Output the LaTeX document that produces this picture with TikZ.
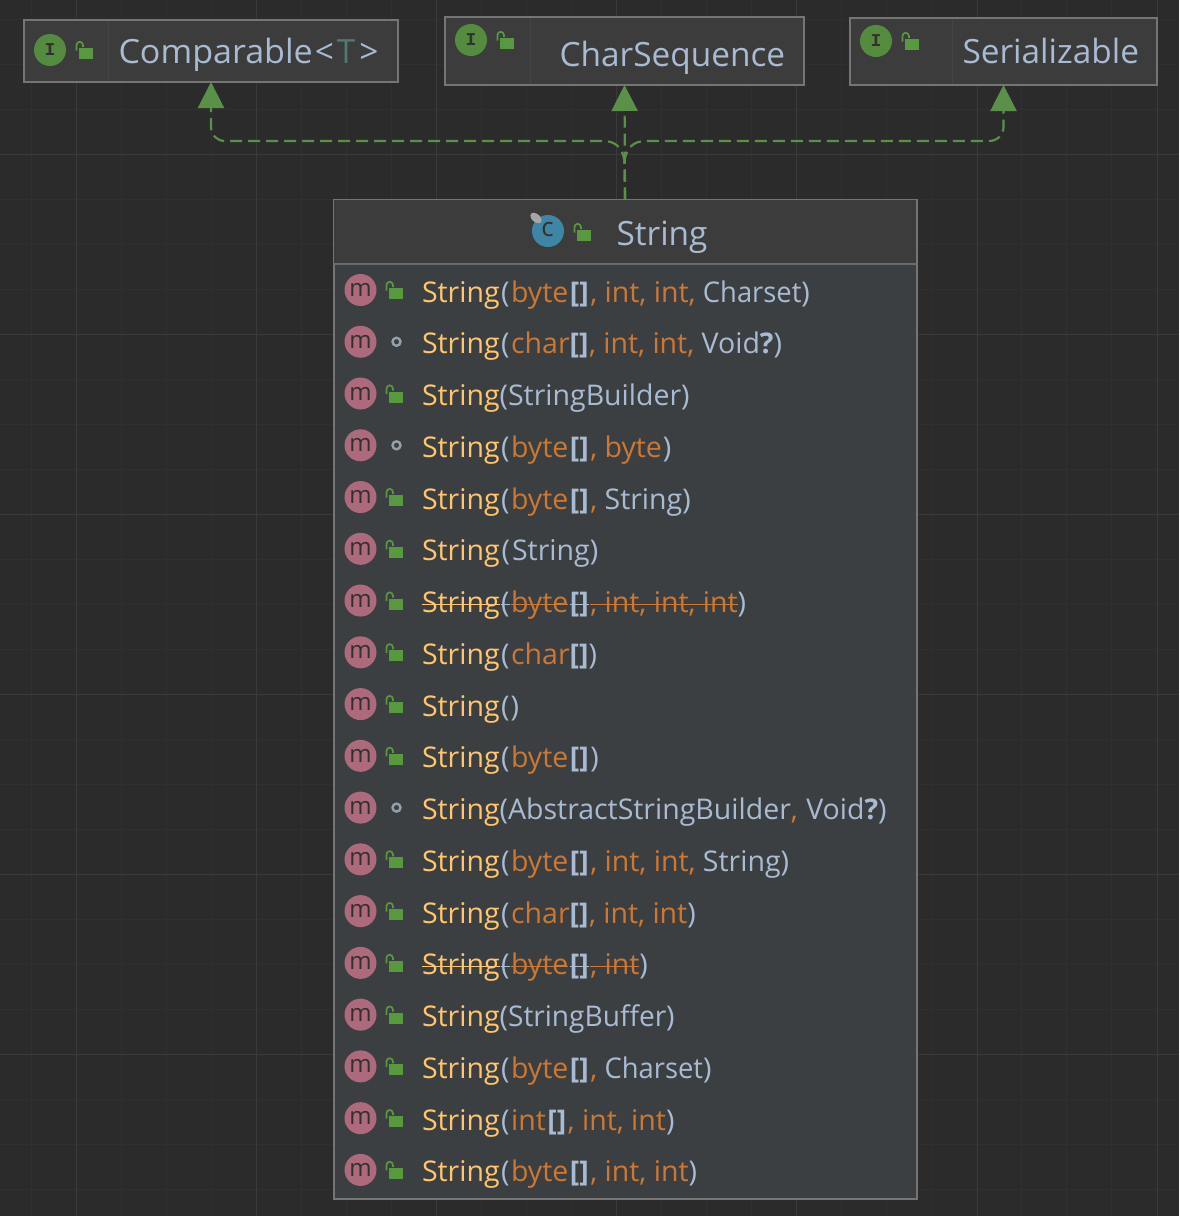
\documentclass[tikz,border=0pt]{standalone}
\usepackage{fontspec}
\setmainfont{Open Sans}
\newfontfamily\monoI{Liberation Mono}
\usetikzlibrary{arrows.meta}
\definecolor{bgc}{HTML}{2B2B2B}
\definecolor{gridmin}{HTML}{303030}
\definecolor{gridmaj}{HTML}{3A3A3A}
\definecolor{headc}{HTML}{3C3C3C}
\definecolor{bodyc}{HTML}{3C3F41}
\definecolor{edgec}{HTML}{757575}
\definecolor{sepc}{HTML}{6A6A6A}
\definecolor{divc}{HTML}{454545}
\definecolor{greenc}{HTML}{5B9049}
\definecolor{lockc}{HTML}{58983F}
\definecolor{ibadge}{HTML}{558B3F}
\definecolor{mbadge}{HTML}{AD6A7C}
\definecolor{cbadge}{HTML}{3E86A5}
\definecolor{yel}{HTML}{FFC66D}
\definecolor{blu}{HTML}{A9BBD3}
\definecolor{org}{HTML}{CC7832}
\definecolor{teal}{HTML}{507874}
\definecolor{pkgc}{HTML}{93A1AC}
\definecolor{inkc}{HTML}{33302F}
\newcommand\Yy[1]{{\color{yel}#1}}
\newcommand\Pp[1]{{\color{blu}#1}}
\newcommand\Kk[1]{{\color{org}#1}}
\newcommand\Tt[1]{{\color{teal}#1}}
\newcommand\Op{\kern1.5pt\Pp{(}\kern1.5pt}
\newcommand\Bk{\Pp{{\bfseries[]}}}
\newcommand\Br{\kern1.5pt\Bk\kern1.5pt}
\newcommand\Vq{\Pp{Void{\bfseries ?})}}
\newcommand\Cs{\Pp{\scalebox{.96}[1]{Charset})}}
\newcommand\Strk[2]{{\color{#1}\setbox0\hbox{#2}\rlap{\rule[0.27em]{\wd0}{1.3pt}}\box0}}
\newcommand\lockat[2]{%
  \fill[lockc] (#1,#2) rectangle ++(14,11);
  \draw[lockc,line width=1.7pt] (#1-2.5,#2+2.5) -- ++(0,-5.5) arc[start angle=180,end angle=360,radius=3.2] -- ++(0,2);}
\tikzset{
  x=1pt,y=-1pt,
  ifacebox/.style={draw=edgec,fill=headc,line width=2pt,rectangle,inner sep=0pt,outer sep=0pt},
  title/.style={anchor=base west,inner sep=0pt,outer sep=0pt,text=blu,font=\fontsize{33.4}{33.4}\selectfont},
  rowtext/.style={anchor=base west,inner sep=0pt,outer sep=0pt,font=\fontsize{28.5}{28.5}\selectfont},
  dep/.style={draw=greenc,line width=2.2pt,dash pattern=on 12pt off 6pt,-{Triangle[width=26pt,length=26pt,fill=greenc]}},
  gmin/.style={draw=gridmin,line width=1pt},
  gmaj/.style={draw=gridmaj,line width=1pt},
  badge/.style={circle,minimum size=32pt,inner sep=0pt,outer sep=0pt,draw=none},
  letter/.style={inner sep=0pt,outer sep=0pt,text=inkc},
  iletter/.style={letter,font=\monoI\bfseries\fontsize{18}{18}\selectfont},
}
\begin{document}
\begin{tikzpicture}
\useasboundingbox (0,0) rectangle (1179,1216);
\fill[bgc] (0,0) rectangle (1179,1216);
% grid
\foreach \gx in {31,121,166,211,301,346,391,481,526,571,661,706,751,841,886,931,1021,1066,1111}
  \draw[gmin] (\gx,0) -- (\gx,1216);
\foreach \gy in {19,64,109,199,244,289,379,424,469,559,604,649,739,784,829,919,964,1009,1099,1144,1189}
  \draw[gmin] (0,\gy) -- (1179,\gy);
\foreach \gx in {76,256,436,616,796,977,1157}
  \draw[gmaj] (\gx,0) -- (\gx,1216);
\foreach \gy in {154,334,514,694,874,1054}
  \draw[gmaj] (0,\gy) -- (1179,\gy);
% interface boxes
\node[ifacebox,minimum width=374pt,minimum height=62pt] (cmp) at (211,51) {};
\node[ifacebox,minimum width=359pt,minimum height=68pt] (chs) at (624.5,51) {};
\node[ifacebox,minimum width=307pt,minimum height=67pt] (ser) at (1003.5,51.5) {};
\draw[divc,line width=1pt] (108,21) -- (108,81);
\draw[divc,line width=1pt] (530,18) -- (530,84);
\draw[divc,line width=1pt] (952,19) -- (952,84);
% String box
\node[rectangle,draw=edgec,fill=bodyc,line width=2pt,minimum width=583pt,minimum height=999pt,inner sep=0pt,outer sep=0pt] (str) at (625,699) {};
\fill[headc] (334,200) rectangle (916,264);
\draw[sepc,line width=2pt] (334,264) -- (916,264);
% connectors
\coordinate (joint) at (624.5,160);
\coordinate (hl) at (603,141);
\coordinate (hr) at (646,141);
\coordinate (hl2) at (225,141);
\coordinate (hr2) at (989,141);
\coordinate (vl) at (211,127);
\coordinate (vr) at (1003.5,127);
\draw[dep] (str.north) -- (chs.south);
\draw[dep] (str.north) -- (joint) .. controls (622,148) and (616,141) .. (hl) -- (hl2) .. controls (217,141) and (211,135) .. (vl) -- (cmp.south);
\draw[dep] (str.north) -- (joint) .. controls (627,148) and (633,141) .. (hr) -- (hr2) .. controls (997,141) and (1003.5,135) .. (vr) -- (ser.south);
% interface contents
\node[badge,fill=ibadge] (icmp) at (50,50) {};
\node[iletter] (lcmp) at (icmp) {I};
\lockat{79}{48}
\node[title] (tcmp) at (118.5,63) {\scalebox{1.02}[1]{Comparable}\kern2pt\Pp{<}\kern3pt\Tt{T}\kern4pt\Pp{>}};
\node[badge,fill=ibadge] (ichs) at (471,40) {};
\node[iletter] (lchs) at (ichs) {I};
\lockat{500}{38}
\node[title] (tchs) at (559.5,66) {CharSequence};
\node[badge,fill=ibadge] (iser) at (876,41) {};
\node[iletter] (lser) at (iser) {I};
\lockat{905}{39}
\node[title] (tser) at (962.5,63) {Serializable};
% class header
\node[badge,fill=cbadge] (istr) at (548,231) {};
\node[letter,font=\fontsize{26}{26}\selectfont] (lstr) at (547.5,230) {c};
\fill[gray!70!white,rotate around={-40:(536,218)}] (536,218) ellipse[x radius=6.5,y radius=4];
\lockat{577}{230}
\node[title] (tstr) at (616.5,245) {String};
% rows
\foreach \rowy/\vis/\txt in {
 0/p/{\Yy{String}\Op\Kk{byte}\Br\Kk{, int, int, }\Cs},
 1/d/{\Yy{String}\Op\Kk{char}\Bk\kern.5pt\Kk{, int, int, }\Vq},
 2/p/{\Yy{String}\Pp{(StringBuilder)}},
 3/d/{\Yy{String}\Op\Kk{byte}\Br\Kk{, byte}\kern1pt\Pp{)}},
 4/p/{\Yy{String}\Op\Kk{byte}\Br\Kk{, }\Pp{String)}},
 5/p/{\Yy{String}\kern2pt\Pp{(}\kern2pt\Pp{String)}},
 6/p/{\Strk{yel}{String}\kern1.5pt\Strk{blu}{(}\kern1.5pt\Strk{org}{byte}\kern1.5pt\Strk{blu}{{\bfseries[]}}\kern1.5pt\Strk{org}{, int, int, int}\Pp{)}},
 7/p/{\Yy{String}\Op\Kk{char}\Bk\Pp{)}},
 8/p/{\Yy{String}\kern1.5pt\Pp{(}\kern1pt\Pp{)}},
 9/p/{\Yy{String}\Op\Kk{byte}\Br\Pp{)}},
 10/d/{\Yy{String}\Pp{(AbstractStringBuilder}\Kk{, }\kern1pt\Vq},
 11/p/{\Yy{String}\Op\Kk{byte}\Br\Kk{, int, int, }\Pp{String)}},
 12/p/{\Yy{String}\Op\Kk{char}\Bk\kern.5pt\Kk{, int, int}\Pp{)}},
 13/p/{\Strk{yel}{String}\kern1.5pt\Strk{blu}{(}\kern1.5pt\Strk{org}{byte}\kern1.5pt\Strk{blu}{{\bfseries[]}}\kern1.5pt\Strk{org}{, int}\Pp{)}},
 14/p/{\Yy{String}\Pp{(\scalebox{.985}[1]{StringBuffer})}},
 15/p/{\Yy{String}\Op\Kk{byte}\Br\Kk{, }\Cs},
 16/p/{\Yy{String}\Op\Kk{int}\Br\Kk{, int, int}\Pp{)}},
 17/p/{\Yy{String}\Op\Kk{byte}\Br\Kk{, int, int}\Pp{)}}%
}{
  \pgfmathsetmacro{\cy}{290+51.76*\rowy}
  \node[badge,fill=mbadge] (m\rowy) at (360.5,\cy) {};
  \node[letter,font=\fontsize{24}{24}\selectfont] (ml\rowy) at (360.5,\cy) {m};
  \if\vis p
    \lockat{389}{\cy-2}
  \else
    \draw[pkgc,line width=2.4pt] (396.5,\cy) circle[radius=4];
  \fi
  \node[rowtext] (t\rowy) at (422,\cy+12) {\txt};
}
\end{tikzpicture}
\end{document}
